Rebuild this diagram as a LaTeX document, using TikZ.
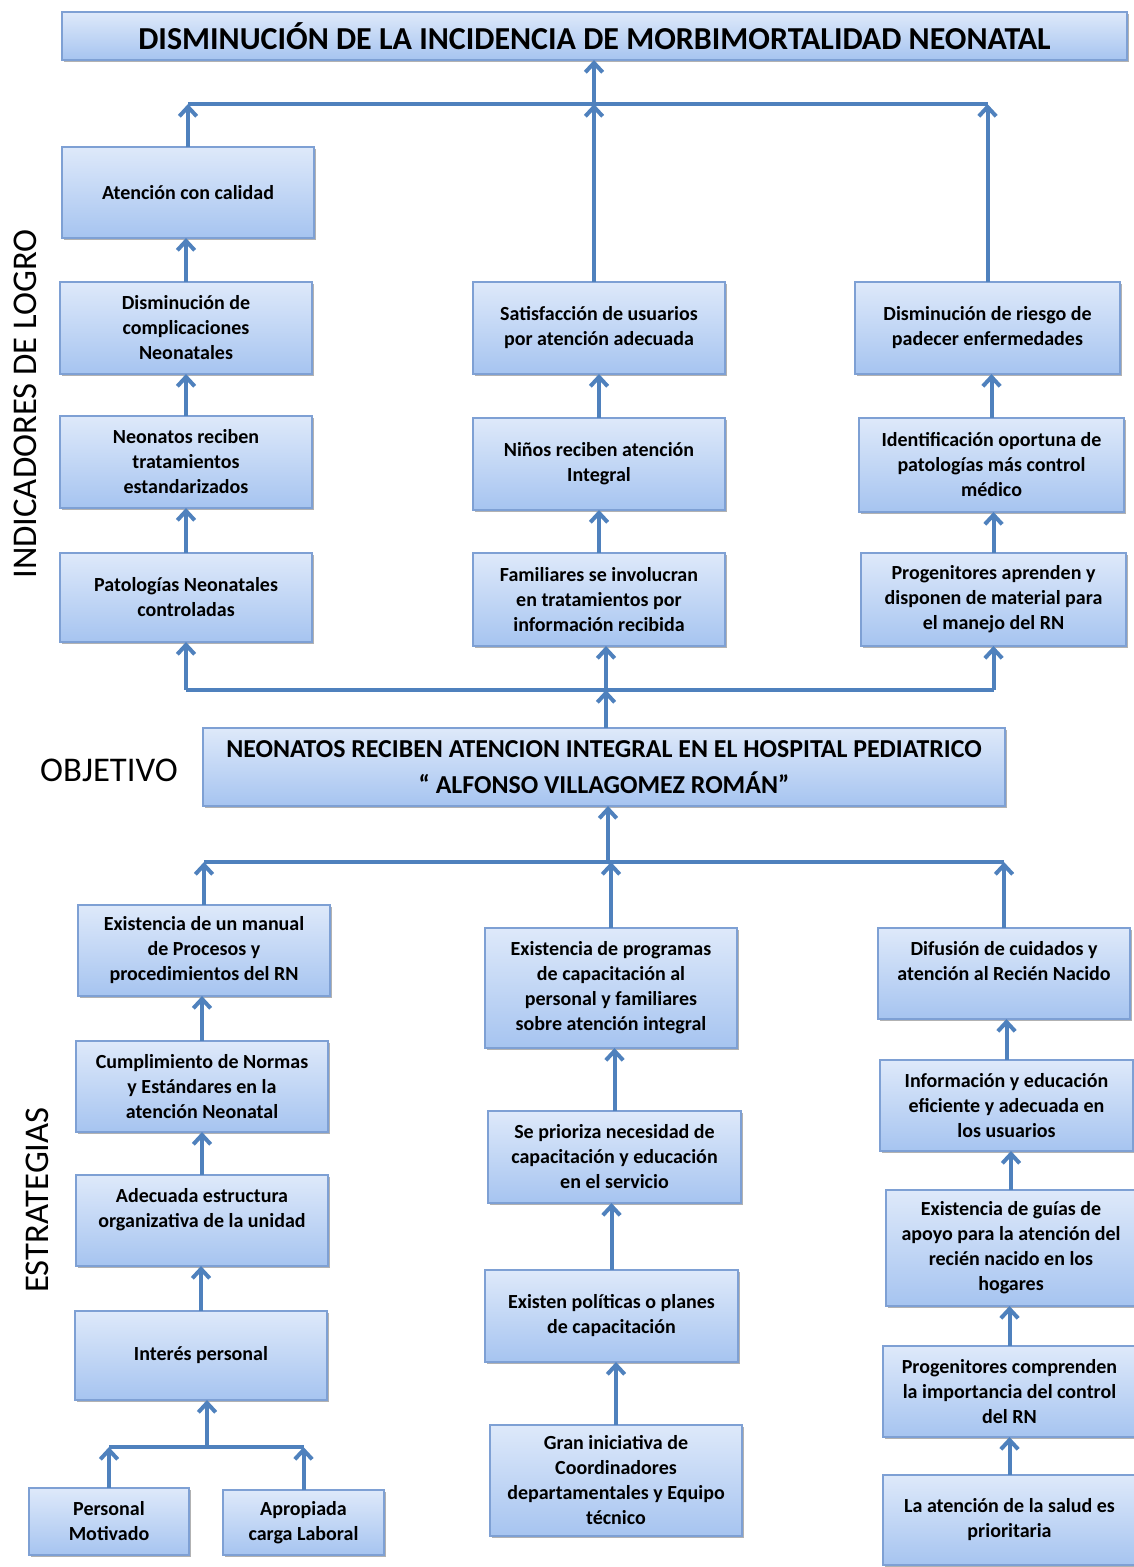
\documentclass[tikz,border=0pt]{standalone}
\usepackage{fontspec}
\setmainfont{Carlito}
\usetikzlibrary{arrows.meta,shadows}
\definecolor{boxtop}{RGB}{222,233,250}
\definecolor{boxbot}{RGB}{166,196,240}
\definecolor{boxline}{RGB}{126,160,212}
\definecolor{arrblue}{RGB}{79,129,189}
\tikzset{
  box/.style={draw=boxline, line width=0.8pt, top color=boxtop, bottom color=boxbot,
    inner sep=0pt, outer sep=0pt, align=center, font=\fontsize{15}{18.75}\selectfont\bfseries,
    drop shadow={shadow xshift=1.5pt, shadow yshift=-1.5pt, opacity=0.3, fill=black}},
  conn/.style={draw=arrblue, line width=3pt},
  arr/.style={conn, -{Straight Barb[length=7pt,width=13pt]}},
  sidelabel/.style={font=\fontsize{26}{30}\selectfont},
}
\newcommand{\bx}[7][]{%
  \pgfmathsetmacro\bxw{(#5-#3)*0.75}\pgfmathsetmacro\bxh{(#6-#4)*0.75}%
  \node[box, minimum width=\bxw pt, minimum height=\bxh pt, #1] (#2) at ({(#3+#5)/2},{(#4+#6)/2}) {#7};}
\begin{document}
\begin{tikzpicture}[x=0.75pt,y=-0.75pt]
\useasboundingbox (0,0) rectangle (1133,1567);
% title
\bx[font=\fontsize{24}{28}\selectfont\bfseries]{title}{62}{12}{1127}{60}{DISMINUCIÓN DE LA INCIDENCIA DE MORBIMORTALIDAD NEONATAL}
% indicators
\bx{atn}{62}{147}{314}{238}{Atención con calidad}
\bx{dcomp}{60}{282}{312}{374}{Disminución de\\complicaciones\\Neonatales}
\bx{neot}{60}{416}{312}{508}{Neonatos reciben\\tratamientos\\estandarizados}
\bx{pato}{60}{553}{312}{642}{Patologías Neonatales\\controladas}
\bx{sat}{473}{282}{725}{374}{Satisfacción de usuarios\\por atención adecuada}
\bx{nin}{473}{418}{725}{510}{Niños reciben atención\\Integral}
\bx{fam}{473}{553}{725}{646}{Familiares  se involucran\\en tratamientos por\\información recibida}
\bx{rie}{855}{282}{1120}{374}{Disminución de riesgo de\\padecer enfermedades}
\bx{ide}{859}{418}{1124}{512}{Identificación oportuna de\\patologías más control\\médico}
\bx{prog}{861}{553}{1126}{646}{Progenitores aprenden y\\disponen de material para\\el manejo del RN}
% objective
\bx[font=\fontsize{19.4}{27}\selectfont\bfseries]{obj}{203}{728}{1005}{806}{NEONATOS RECIBEN ATENCION INTEGRAL EN EL HOSPITAL PEDIATRICO\\“ ALFONSO VILLAGOMEZ ROMÁN”}
% strategies
\bx{man}{78}{905}{330}{996}{Existencia de un manual\\de Procesos y\\procedimientos del RN}
\bx{cum}{76}{1041}{328}{1132}{Cumplimiento de Normas\\y Estándares en la\\atención Neonatal}
\bx{ade}{76}{1175}{328}{1266}{Adecuada estructura\\organizativa de la unidad\\\mbox{}}
\bx{int}{75}{1311}{327}{1400}{Interés personal}
\bx{per}{29}{1488}{189}{1555}{Personal\\Motivado}
\bx{apr}{223}{1490}{384}{1555}{Apropiada\\carga Laboral}
\bx{exp}{485}{928}{737}{1048}{Existencia de programas\\de capacitación al\\personal y familiares\\sobre atención integral}
\bx{pri}{488}{1111}{741}{1203}{Se prioriza necesidad de\\capacitación y educación\\en el servicio}
\bx{pol}{485}{1270}{738}{1362}{Existen políticas o planes\\de capacitación}
\bx{gra}{490}{1425}{742}{1536}{Gran iniciativa de\\Coordinadores\\departamentales y Equipo\\técnico}
\bx{dif}{878}{928}{1130}{1019}{Difusión de cuidados y\\atención al Recién Nacido\\\mbox{}}
\bx{inf}{880}{1060}{1133}{1151}{Información y educación\\eficiente y adecuada en\\los usuarios}
\bx{gui}{886}{1190}{1136}{1306}{Existencia de guías de\\apoyo para la atención del\\recién nacido en los\\hogares}
\bx{pco}{883}{1346}{1136}{1437}{Progenitores comprenden\\la importancia del control\\del RN}
\bx{sal}{883}{1475}{1136}{1565}{La atención de la salud es\\prioritaria}
% side labels
\node[sidelabel, rotate=90] (lind) at (25,404) {INDICADORES DE LOGRO};
\node[sidelabel] (lobj) at (109,770) {OBJETIVO};
\node[sidelabel, rotate=90] (lest) at (37,1200) {ESTRATEGIAS};
% junction coordinates
\coordinate (jt) at (594,104);
\coordinate (jm) at (606,690);
\coordinate (jb) at (608,862);
\coordinate (ji) at (207,1447);
% top structure
\draw[conn] (atn.north |- jt) -- (rie.north |- jt);
\draw[arr] (jt) -- (jt |- title.south);
\draw[arr] (atn.north) -- (atn.north |- jt);
\draw[arr] (sat.north -| jt) -- (jt);
\draw[arr] (rie.north) -- (rie.north |- jt);
\draw[arr] (dcomp.north) -- (dcomp.north |- atn.south);
\draw[arr] (neot.north) -- (neot.north |- dcomp.south);
\draw[arr] (pato.north) -- (pato.north |- neot.south);
\draw[arr] (nin.north) -- (nin.north |- sat.south);
\draw[arr] (fam.north) -- (fam.north |- nin.south);
\draw[arr] (ide.north) -- (ide.north |- rie.south);
\draw[arr] (prog.north) -- (prog.north |- ide.south);
% middle structure
\draw[conn] (pato.south |- jm) -- (prog.south |- jm);
\draw[arr] (pato.south |- jm) -- (pato.south);
\draw[arr] (jm) -- (jm |- fam.south);
\draw[arr] (prog.south |- jm) -- (prog.south);
\draw[arr] (jm |- obj.north) -- (jm);
% bottom structure
\draw[conn] (man.north |- jb) -- (dif.north |- jb);
\draw[arr] (jb) -- (jb |- obj.south);
\draw[arr] (man.north) -- (man.north |- jb);
\draw[arr] (exp.north) -- (exp.north |- jb);
\draw[arr] (dif.north) -- (dif.north |- jb);
\draw[arr] (cum.north) -- (cum.north |- man.south);
\draw[arr] (ade.north) -- (ade.north |- cum.south);
\draw[arr] (int.north) -- (int.north |- ade.south);
\draw[conn] (per.north |- ji) -- (apr.north |- ji);
\draw[arr] (ji) -- (ji |- int.south);
\draw[arr] (per.north) -- (per.north |- ji);
\draw[arr] (apr.north) -- (apr.north |- ji);
\draw[arr] (pri.north) -- (pri.north |- exp.south);
\draw[arr] (pol.north) -- (pol.north |- pri.south);
\draw[arr] (gra.north) -- (gra.north |- pol.south);
\draw[arr] (inf.north) -- (inf.north |- dif.south);
\draw[arr] (gui.north) -- (gui.north |- inf.south);
\draw[arr] (pco.north) -- (pco.north |- gui.south);
\draw[arr] (sal.north) -- (sal.north |- pco.south);
\end{tikzpicture}
\end{document}
